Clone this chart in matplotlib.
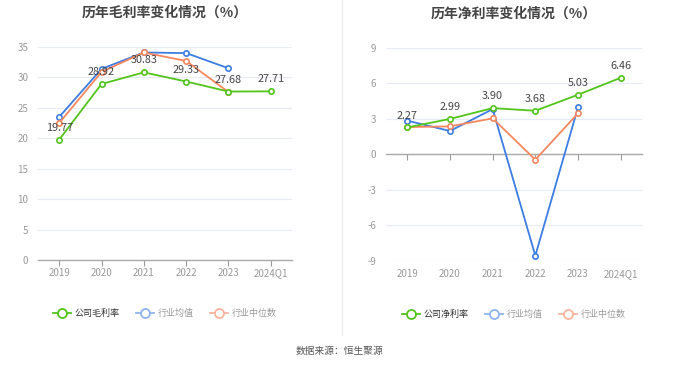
import matplotlib
matplotlib.use("Agg")
import matplotlib.pyplot as plt
from matplotlib.lines import Line2D

plt.rcParams['font.family'] = ['Noto Sans CJK SC', 'DejaVu Sans']

years = ["2019", "2020", "2021", "2022", "2023", "2024Q1"]

# gross margin (%)
gross_company = [19.77, 28.92, 30.83, 29.33, 27.68, 27.71]
gross_avg = [23.5, 31.4, 34.1, 34.0, 31.5]
gross_median = [22.5, 30.9, 34.1, 32.7, 27.6]

# net margin (%)
net_company = [2.27, 2.99, 3.90, 3.68, 5.03, 6.46]
net_avg = [2.84, 1.97, 3.82, -8.55, 3.96]
net_median = [2.30, 2.36, 3.04, -0.45, 3.46]

GREEN = "#52c41a"
BLUE = "#3b7de0"
ORANGE = "#f5875f"

W, H = 680, 367
fig = plt.figure(figsize=(W / 100, H / 100), dpi=100)


def px_axes(x0, x1, ytop, ybot):
    return fig.add_axes([x0 / W, 1 - ybot / H, (x1 - x0) / W, (ybot - ytop) / H])


def draw(ax, comp, avg, med, yticks, title, legend_name):
    x = list(range(len(years)))
    ax.plot(x[:len(avg)], avg, color=BLUE, lw=1.3, marker="o", ms=3.8,
            mfc="white", mew=1.2, zorder=3)
    ax.plot(x[:len(med)], med, color=ORANGE, lw=1.3, marker="o", ms=3.8,
            mfc="white", mew=1.2, zorder=3)
    ax.plot(x, comp, color=GREEN, lw=1.3, marker="o", ms=3.8,
            mfc="white", mew=1.2, zorder=4)
    for xi, v in zip(x, comp):
        ax.annotate(f"{v:.2f}", (xi, v), xytext=(0, 5), textcoords="offset points",
                    ha="center", va="bottom", fontsize=7.8, color="#444444", zorder=5)
    ax.set_xlim(-0.5, len(years) - 0.5)
    ax.set_ylim(yticks[0], yticks[-1])
    ax.set_yticks(yticks)
    ax.set_yticklabels([str(t) for t in yticks])
    ax.set_xticks(x)
    ax.grid(axis="y", color="#e6ebf5", lw=0.8)
    ax.set_axisbelow(True)
    for s in ax.spines.values():
        s.set_visible(False)
    ax.tick_params(axis="y", length=0, labelsize=7, colors="#999999", pad=7)
    ax.tick_params(axis="x", length=4, width=0.8, color="#999999",
                   labelbottom=False)
    ax.spines["bottom"].set_visible(True)
    ax.spines["bottom"].set_color("#aaaaaa")
    ax.spines["bottom"].set_linewidth(1.0)
    ax.spines["bottom"].set_position(("data", 0))
    for xi, lab in enumerate(years):
        ax.annotate(lab, (xi, yticks[0]), xytext=(0, -6), textcoords="offset points",
                    ha="center", va="top", fontsize=7, color="#999999")
    ax.set_title(title, fontsize=10, fontweight="bold", color="#444444", pad=22)
    handles = [
        Line2D([], [], color=GREEN, lw=1.3, marker="o", ms=6.5, mfc="white", mew=1.3),
        Line2D([], [], color="#8fb3ef", lw=1.3, marker="o", ms=6.5, mfc="white", mew=1.3),
        Line2D([], [], color="#f8b49c", lw=1.3, marker="o", ms=6.5, mfc="white", mew=1.3),
    ]
    leg = ax.legend(handles, [legend_name, "行业均值", "行业中位数"], ncol=3,
                    loc="center", bbox_to_anchor=(0.5, -0.25), frameon=False,
                    fontsize=6.5, handlelength=2.0, handletextpad=0.4,
                    columnspacing=1.8)
    for i, t in enumerate(leg.get_texts()):
        t.set_color("#333333" if i == 0 else "#999999")


ax1 = px_axes(38, 292, 47, 260)
draw(ax1, gross_company, gross_avg, gross_median, [0, 5, 10, 15, 20, 25, 30, 35],
     "历年毛利率变化情况（%）", "公司毛利率")

ax2 = px_axes(386, 642, 47.7, 261)
draw(ax2, net_company, net_avg, net_median, [-9, -6, -3, 0, 3, 6, 9],
     "历年净利率变化情况（%）", "公司净利率")

# separator line
fig.add_artist(Line2D([342 / W, 342 / W], [1 - 335 / H, 1.0], color="#f0f0f0", lw=1))

fig.text(0.5, 1 - 351 / H, "数据来源：恒生聚源", ha="center", va="center",
         fontsize=7, color="#555555")

fig.savefig("out.png", dpi=100, facecolor="white")
